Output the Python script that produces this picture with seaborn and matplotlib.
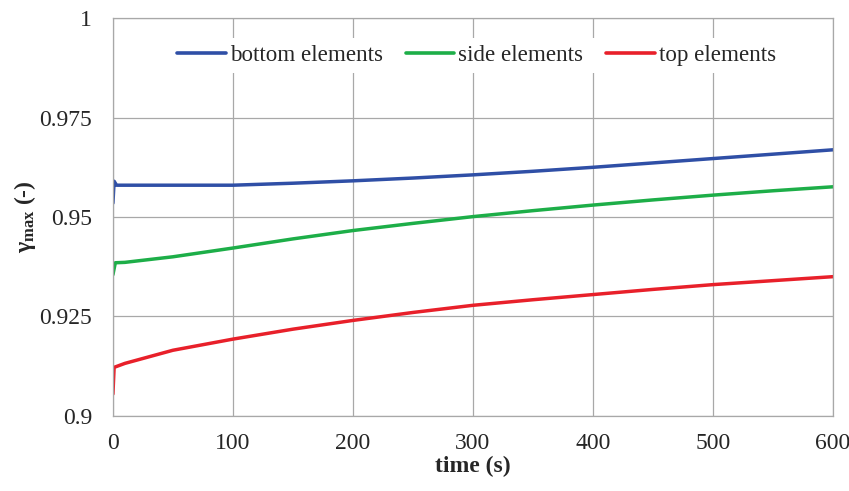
import numpy as np
import pandas as pd
import seaborn as sns
import matplotlib
matplotlib.use("Agg")
import matplotlib.pyplot as plt
from matplotlib.ticker import FuncFormatter

# ---- data ----
bottom_t = [0, 1, 3, 50, 100, 150, 200, 250, 300, 350, 400, 450, 500, 550, 600]
bottom_v = [0.9535, 0.9590, 0.9580, 0.9580, 0.9580, 0.9585, 0.9591, 0.9598, 0.9606,
            0.9615, 0.9625, 0.9636, 0.9647, 0.9658, 0.9669]
side_t = [0, 2, 10, 50, 100, 150, 200, 250, 300, 350, 400, 450, 500, 550, 600]
side_v = [0.9355, 0.9385, 0.9386, 0.9400, 0.9422, 0.9445, 0.9466, 0.9484, 0.9501,
          0.9516, 0.9530, 0.9543, 0.9555, 0.9566, 0.9576]
top_t = [0, 1, 10, 50, 100, 150, 200, 250, 300, 350, 400, 450, 500, 550, 600]
top_v = [0.9055, 0.9122, 0.9132, 0.9165, 0.9193, 0.9218, 0.9240, 0.9260, 0.9278,
         0.9292, 0.9305, 0.9318, 0.9330, 0.9340, 0.9350]
series_names = ["bottom elements", "side elements", "top elements"]
x_ticks = [0, 100, 200, 300, 400, 500, 600]
y_ticks = [0.9, 0.925, 0.95, 0.975, 1.0]

df = pd.concat([
    pd.DataFrame({"time": bottom_t, "gamma": bottom_v, "series": series_names[0]}),
    pd.DataFrame({"time": side_t, "gamma": side_v, "series": series_names[1]}),
    pd.DataFrame({"time": top_t, "gamma": top_v, "series": series_names[2]}),
], ignore_index=True)

sns.set_style("white")
plt.rcParams["font.family"] = ["Liberation Serif", "DejaVu Serif"]
plt.rcParams["mathtext.fontset"] = "custom"
plt.rcParams["mathtext.rm"] = "Liberation Serif"
plt.rcParams["mathtext.it"] = "Liberation Serif:italic"
plt.rcParams["mathtext.bf"] = "Liberation Serif:bold"

FS = 17

fig = plt.figure(figsize=(8.49, 4.91), dpi=100)
ax = fig.add_axes([0.133, 0.153, 0.848, 0.810])

palette = {series_names[0]: "#2F4FA6", series_names[1]: "#1DAE48", series_names[2]: "#E8202A"}
sns.lineplot(data=df, x="time", y="gamma", hue="series", palette=palette,
             linewidth=2.5, ax=ax, sort=False, estimator=None)

ax.set_xlim(0, 600)
ax.set_ylim(0.9, 1.0)
ax.set_xticks(x_ticks)
ax.set_yticks(y_ticks)
ax.yaxis.set_major_formatter(FuncFormatter(lambda v, p: f"{v:g}"))
ax.tick_params(length=0, labelsize=FS)
ax.tick_params(axis="y", pad=15)
ax.tick_params(axis="x", pad=12)
ax.grid(True, color="#A8A8A8", linewidth=0.9)
for s in ax.spines.values():
    s.set_color("#A8A8A8")
    s.set_linewidth(0.9)

ax.set_xlabel("time (s)", fontsize=FS, fontweight="bold", labelpad=2)
ax.set_ylabel(r"$\mathbf{\gamma}_{\mathbf{max}}$ (-)", fontsize=FS, fontweight="bold", labelpad=1)

leg = ax.legend(loc="center left", bbox_to_anchor=(0.080, 0.907), ncol=3, frameon=True,
                fontsize=16.6, handlelength=2.1, handletextpad=0.17, columnspacing=1.0,
                borderpad=0.3, borderaxespad=0)
leg.get_frame().set_facecolor("white")
leg.get_frame().set_edgecolor("none")
leg.get_frame().set_alpha(1)
for line in leg.get_lines():
    line.set_linewidth(2.6)

fig.savefig("out.png", dpi=100)
